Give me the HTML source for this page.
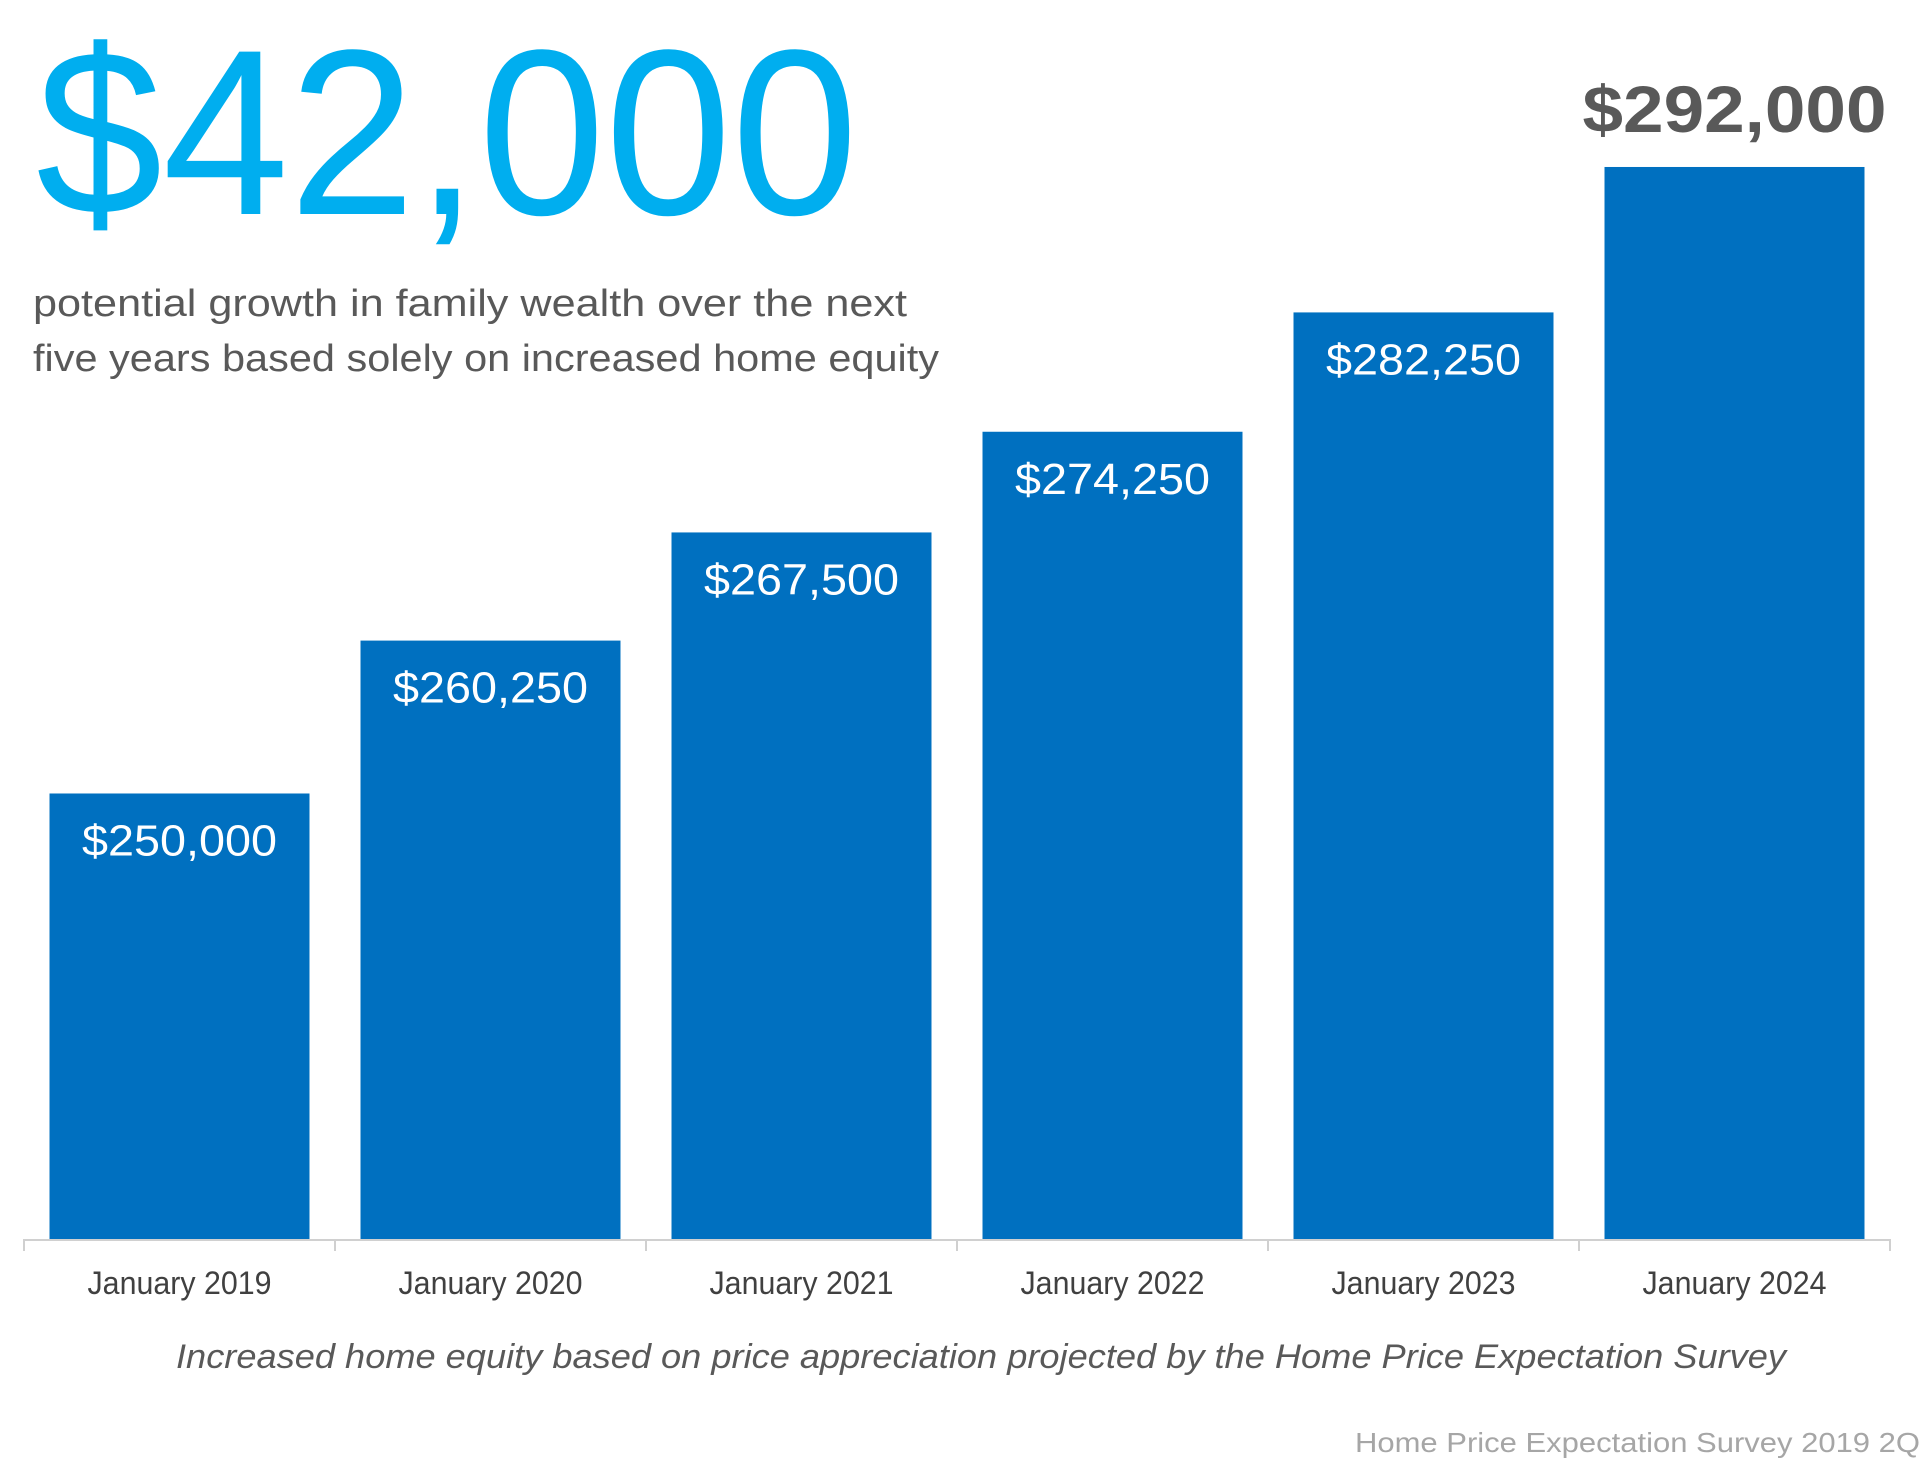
<!DOCTYPE html>
<html><head><meta charset="utf-8"><style>
html,body{margin:0;padding:0;background:#fff;}
svg{display:block;}
</style></head><body>
<svg id="chart" width="1920" height="1471" viewBox="0 0 1920 1471" xmlns="http://www.w3.org/2000/svg" font-family="'Liberation Sans', sans-serif">
<text x="36" y="214" font-size="236" fill="#00aeef" textLength="822" lengthAdjust="spacingAndGlyphs">$42,000</text>
<text x="33" y="316" font-size="38" fill="#595959" textLength="874" lengthAdjust="spacingAndGlyphs">potential growth in family wealth over the next</text>
<text x="33" y="371" font-size="38" fill="#595959" textLength="906" lengthAdjust="spacingAndGlyphs">five years based solely on increased home equity</text>
<g id="bars"></g>
<g id="axis"></g>
<text x="176" y="1368" font-size="34" font-style="italic" fill="#595959" textLength="1610" lengthAdjust="spacingAndGlyphs">Increased home equity based on price appreciation projected by the Home Price Expectation Survey</text>
<text x="1355" y="1452" font-size="28" fill="#a6a6a6" textLength="565" lengthAdjust="spacingAndGlyphs">Home Price Expectation Survey 2019 2Q</text>
</svg>
<script>
const categories = ["January 2019","January 2020","January 2021","January 2022","January 2023","January 2024"];
const values = [250000, 260250, 267500, 274250, 282250, 292000];
const valueLabels = ["$250,000","$260,250","$267,500","$274,250","$282,250","$292,000"];

const NS = "http://www.w3.org/2000/svg";
const x0 = 24, catW = 311, barW = 260, baseY = 1239;
const yMin = 220134, pxPer = 0.014917;
function xCenter(i){ return x0 + catW*(i+0.5); }
function y(v){ return baseY - (v - yMin)*pxPer; }

const bars = document.getElementById('bars');
const axis = document.getElementById('axis');
values.forEach((v,i)=>{
  const r = document.createElementNS(NS,'rect');
  
  
  r.setAttribute('x', xCenter(i) - barW/2);
  r.setAttribute('y', y(v));
  r.setAttribute('width', barW);
  r.setAttribute('height', baseY - y(v));
  r.setAttribute('fill', '#0070c0');
  bars.appendChild(r);

  const t = document.createElementNS(NS,'text');
  
  
  t.setAttribute('x', xCenter(i));
  t.setAttribute('text-anchor', 'middle');
  if (i === values.length-1) {
    t.setAttribute('y', y(v) - 35);
    t.setAttribute('font-size', '66');
    t.setAttribute('font-weight', 'bold');
    t.setAttribute('fill', '#595959');
    t.setAttribute('textLength', '304');
  } else {
    t.setAttribute('y', y(v) + 62);
    t.setAttribute('font-size', '44');
    t.setAttribute('fill', '#ffffff');
    t.setAttribute('textLength', '195');
  }
  t.setAttribute('lengthAdjust', 'spacingAndGlyphs');
  t.textContent = valueLabels[i];
  bars.appendChild(t);

  const c = document.createElementNS(NS,'text');
  
  
  c.setAttribute('x', xCenter(i));
  c.setAttribute('y', 1294);
  c.setAttribute('text-anchor', 'middle');
  c.setAttribute('font-size', '32');
  c.setAttribute('fill', '#404040');
  c.setAttribute('textLength', '184');
  c.setAttribute('lengthAdjust', 'spacingAndGlyphs');
  c.textContent = categories[i];
  axis.appendChild(c);
});
const line = document.createElementNS(NS,'line');


line.setAttribute('x1', x0); line.setAttribute('x2', x0 + catW*categories.length);
line.setAttribute('y1', baseY + 1); line.setAttribute('y2', baseY + 1);
line.setAttribute('stroke', '#d0d0d0'); line.setAttribute('stroke-width', '2');
axis.appendChild(line);
for (let i=0;i<=categories.length;i++){
  const tk = document.createElementNS(NS,'line');
  
  
  tk.setAttribute('x1', x0 + catW*i); tk.setAttribute('x2', x0 + catW*i);
  tk.setAttribute('y1', baseY); tk.setAttribute('y2', baseY + 12);
  tk.setAttribute('stroke', '#d0d0d0'); tk.setAttribute('stroke-width', '2');
  axis.appendChild(tk);
}
</script>
</body></html>
